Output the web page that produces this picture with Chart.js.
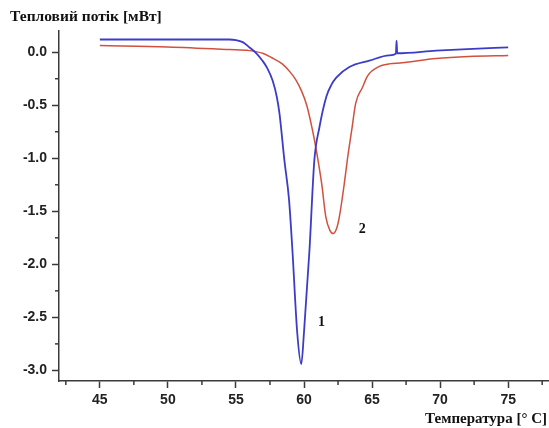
<!DOCTYPE html>
<html>
<head>
<meta charset="utf-8">
<script src="https://cdn.jsdelivr.net/npm/chart.js@4/dist/chart.umd.min.js"></script>
<style>
html,body{margin:0;padding:0;background:#fff;}
#wrap{width:549px;height:428px;}
</style>
</head>
<body>
<div id="wrap"><canvas id="c" width="549" height="428"></canvas></div>
<script>
// Curve 1 (blue)
const temp1 = [45, 48, 52, 54.5, 55.0, 55.5, 56.0, 56.5, 56.95, 57.3, 57.7, 58.0, 58.2, 58.56, 58.9, 59.15, 59.5, 59.8, 60.0, 60.4, 60.76, 61.13, 61.64, 62.0, 62.37, 63.33, 64.8, 66.26, 66.75, 66.8, 66.85, 69.7, 72.0, 75.0];
const flow1 = [0.12, 0.12, 0.12, 0.12, 0.115, 0.095, 0.045, -0.01, -0.08, -0.15, -0.27, -0.42, -0.58, -1.02, -1.39, -1.87, -2.64, -2.94, -2.64, -1.87, -1.02, -0.71, -0.42, -0.31, -0.24, -0.14, -0.08, -0.03, -0.015, 0.11, -0.01, 0.015, 0.03, 0.045];
// Curve 2 (red)
const temp2 = [45, 50, 54.5, 56.0, 56.95, 57.6, 58.4, 59.0, 59.4, 59.8, 60.2, 60.6, 60.9, 61.3, 61.6, 61.9, 62.15, 62.4, 62.6, 62.96, 63.2, 63.5, 63.8, 64.3, 64.6, 64.8, 65.3, 65.7, 66.26, 67.2, 69.7, 72.1, 75.0];
const flow2 = [0.063, 0.05, 0.025, 0.015, -0.01, -0.05, -0.11, -0.19, -0.26, -0.36, -0.5, -0.72, -0.92, -1.24, -1.55, -1.68, -1.71, -1.66, -1.55, -1.24, -1.0, -0.74, -0.48, -0.33, -0.24, -0.2, -0.15, -0.125, -0.11, -0.1, -0.06, -0.04, -0.03];
// Axis ticks
const xMajorStep = 5;
const yMajorStep = 0.5;
const xMinorTicks = [42.5, 47.5, 52.5, 57.5, 62.5, 67.5, 72.5, 77.5];
const yMinorTicks = [-0.25, -0.75, -1.25, -1.75, -2.25, -2.75];
// Texts
const yTitle = 'Тепловий потік [мВт]';
const xTitle = 'Температура [° C]';
const curveLabels = ['1', '2'];
const curveLabelPos = [[61.28, -2.55], [64.28, -1.675]];

const axisColor = '#3a3a3a';
const serif = '"Liberation Serif", "DejaVu Serif", serif';

const extras = {
  id: 'extras',
  afterDraw(chart) {
    const ctx = chart.ctx, xs = chart.scales.x, ys = chart.scales.y, ca = chart.chartArea;
    ctx.save();
    ctx.strokeStyle = axisColor;
    ctx.lineWidth = 1.5;
    xMinorTicks.forEach(v => {
      const p = xs.getPixelForValue(v);
      ctx.beginPath(); ctx.moveTo(p, ca.bottom); ctx.lineTo(p, ca.bottom + 4); ctx.stroke();
    });
    yMinorTicks.forEach(v => {
      const p = ys.getPixelForValue(v);
      ctx.beginPath(); ctx.moveTo(ca.left, p); ctx.lineTo(ca.left - 4, p); ctx.stroke();
    });
    ctx.fillStyle = '#111';
    ctx.textBaseline = 'middle';
    ctx.textAlign = 'left';
    ctx.font = 'bold 15.5px ' + serif;
    ctx.fillText(yTitle, ca.left - 49, 17);
    ctx.textAlign = 'right';
    ctx.font = 'bold 15px ' + serif;
    ctx.fillText(xTitle, ca.right - 2, 419);
    ctx.textAlign = 'center';
    ctx.font = 'bold 14px ' + serif;
    curveLabels.forEach((t, i) => {
      ctx.fillText(t, xs.getPixelForValue(curveLabelPos[i][0]), ys.getPixelForValue(curveLabelPos[i][1]));
    });
    ctx.restore();
  }
};

Chart.defaults.font.family = '"Liberation Sans", Arial, sans-serif';

new Chart(document.getElementById('c'), {
  type: 'line',
  data: {
    datasets: [
      { label: '1', data: temp1.map((t, i) => ({x: t, y: flow1[i]})), borderColor: '#3c3cc8', borderWidth: 1.8, pointRadius: 0, fill: false, cubicInterpolationMode: 'monotone' },
      { label: '2', data: temp2.map((t, i) => ({x: t, y: flow2[i]})), borderColor: '#d2503f', borderWidth: 1.5, pointRadius: 0, fill: false, cubicInterpolationMode: 'monotone' }
    ]
  },
  options: {
    responsive: false,
    devicePixelRatio: 1,
    animation: false,
    layout: { padding: { left: 10, top: 31, right: 0, bottom: 17 } },
    plugins: { legend: { display: false }, title: { display: false }, tooltip: { enabled: false } },
    scales: {
      x: {
        type: 'linear', min: 42, max: 78,
        border: { color: axisColor, width: 1.5 },
        grid: { drawOnChartArea: false, tickLength: 7, color: axisColor, tickWidth: 1.5 },
        ticks: { stepSize: xMajorStep, includeBounds: false, padding: 4, color: '#222', font: { size: 14, weight: 'bold' }, maxRotation: 0 },
        afterFit(s) { s.height = 30; }
      },
      y: {
        type: 'linear', min: -3.1, max: 0.2,
        border: { color: axisColor, width: 1.5 },
        grid: { drawOnChartArea: false, tickLength: 7, color: axisColor, tickWidth: 1.5 },
        ticks: { stepSize: yMajorStep, includeBounds: false, padding: 5, color: '#222', font: { size: 14, weight: 'bold' }, callback: v => v.toFixed(1) },
        afterFit(s) { s.width = 49; }
      }
    }
  },
  plugins: [extras]
});
</script>
</body>
</html>
